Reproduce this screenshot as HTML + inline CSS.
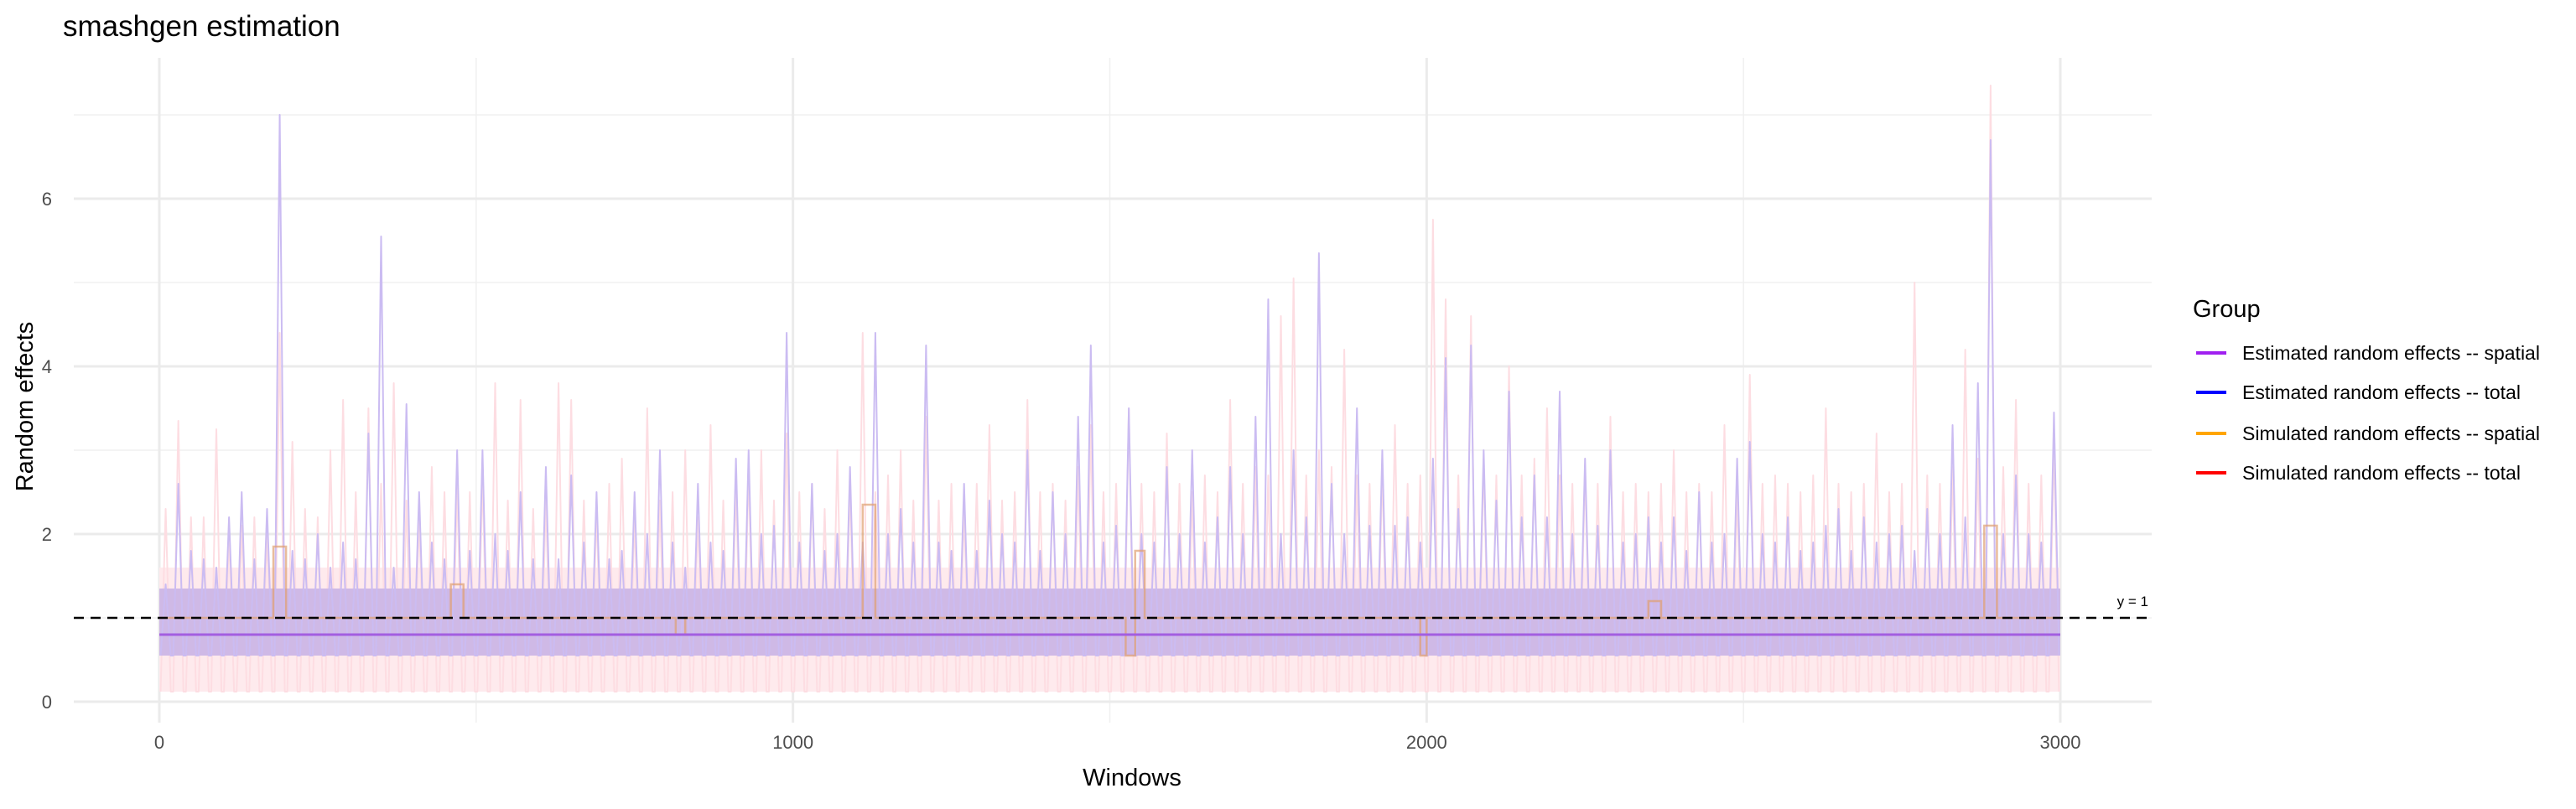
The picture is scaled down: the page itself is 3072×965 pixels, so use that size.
<!DOCTYPE html>
<html><head><meta charset="utf-8"><style>
body{margin:0;background:#fff;}
svg text{font-family:"Liberation Sans",sans-serif;}
</style></head><body>
<svg id="chart" width="3072" height="960" xmlns="http://www.w3.org/2000/svg">
<text x="75" y="43" font-size="35" fill="#000">smashgen estimation</text>
<g id="grid"></g>
<g id="marks"></g>
<g id="axes"></g>
<text x="1350" y="937" font-size="29" text-anchor="middle" fill="#000">Windows</text>
<text transform="translate(39,485) rotate(-90)" font-size="29" text-anchor="middle" fill="#000">Random effects</text>
<g>
<text x="2615" y="378" font-size="29" fill="#000">Group</text>
<g><line x1="2619" x2="2655" y1="421" y2="421" stroke="#a020f0" stroke-width="4"/><text x="2674" y="429" font-size="23">Estimated random effects -- spatial</text></g>
<g><line x1="2619" x2="2655" y1="468" y2="468" stroke="#0000ff" stroke-width="4"/><text x="2674" y="476" font-size="23">Estimated random effects -- total</text></g>
<g><line x1="2619" x2="2655" y1="517" y2="517" stroke="#ffa500" stroke-width="4"/><text x="2674" y="525" font-size="23">Simulated random effects -- spatial</text></g>
<g><line x1="2619" x2="2655" y1="564" y2="564" stroke="#ff0000" stroke-width="4"/><text x="2674" y="572" font-size="23">Simulated random effects -- total</text></g>
</g>
</svg>
<script>
const binStart = 10, binStep = 20;
const estTotalPeaks = [1.4,2.6,1.8,1.7,1.6,2.2,2.5,1.7,2.3,7.0,
1.8,1.7,2.0,1.6,1.9,1.7,3.2,5.55,1.6,3.55,
2.5,1.9,1.7,3.0,1.8,3.0,2.0,1.8,2.5,1.7,
2.8,1.7,2.7,1.9,2.5,1.7,1.8,2.5,2.0,3.0,
1.9,1.6,2.6,1.9,1.8,2.9,3.0,2.0,2.1,4.4,
1.9,2.6,1.8,2.0,2.8,1.9,4.4,2.0,2.3,1.9,
4.25,1.9,1.8,2.6,1.8,2.4,2.0,1.9,3.0,1.8,
2.5,2.0,3.4,4.25,1.9,2.1,3.5,2.0,1.9,2.8,
2.0,3.0,1.9,2.2,2.8,2.0,3.4,4.8,2.0,3.0,
2.2,5.35,2.6,2.0,3.5,2.1,3.0,2.1,2.2,1.9,
2.9,4.1,2.3,4.25,3.0,2.4,3.7,2.2,2.7,2.2,
3.7,2.0,2.9,2.1,3.0,1.9,2.0,2.2,1.9,2.2,
1.8,2.5,1.9,2.0,2.9,3.1,2.0,1.9,2.2,1.8,
1.9,2.1,2.3,1.8,2.2,1.9,2.0,2.1,1.8,2.3,
2.0,3.3,2.2,3.8,6.7,2.0,2.7,2.0,1.9,3.45];
const simTotalPeaks = [2.3,3.35,2.2,2.2,3.25,2.0,2.1,2.2,2.0,4.4,
3.1,2.3,2.2,3.0,3.6,2.5,3.5,2.6,3.8,2.4,
2.2,2.8,2.5,2.6,2.5,2.7,3.8,2.4,3.6,2.3,
2.4,3.8,3.6,2.4,2.3,2.6,2.9,2.2,3.5,2.4,
2.5,3.0,2.2,3.3,2.4,2.6,2.8,3.0,2.4,3.2,
2.5,2.6,2.3,3.0,2.6,4.4,2.5,2.7,3.0,2.4,
3.4,2.4,2.6,2.3,2.6,3.3,2.4,2.5,3.6,2.5,
2.6,2.4,2.8,3.3,2.5,2.6,3.5,2.6,2.5,3.2,
2.6,2.5,2.7,2.5,3.6,2.6,2.8,2.7,4.6,5.05,
2.7,3.0,2.8,4.2,2.7,2.6,2.8,3.3,2.6,2.7,
5.75,4.8,2.7,4.6,2.9,2.7,4.0,2.7,2.9,3.5,
2.7,2.6,2.8,2.6,3.4,2.5,2.6,2.5,2.6,3.0,
2.5,2.6,2.5,3.3,2.5,3.9,2.6,2.7,2.6,2.5,
2.7,3.5,2.6,2.5,2.6,3.2,2.5,2.6,5.0,2.7,
2.6,2.8,4.2,2.9,7.35,2.8,3.6,2.6,2.7,3.1];
const estTotalRange = [0.55, 1.35];
const simTotalRange = [0.12, 1.6];
const estSpatialValue = 0.8;
const simSpatialBreaks = [0,180,200,460,480,815,830,1110,1130,1525,1540,1555,1990,2000,2350,2370,2880,2900,3000];
const simSpatialValues = [1,1.85,1,1.4,1,0.8,1,2.35,1,0.55,1.8,1,0.55,1,1.2,1,2.1,1];
const xTicks = [0,1000,2000,3000];
const yTicks = [0,2,4,6];
const refLineValue = 1;

const X0=190, X1=2457, Y0=837, PXU=100;
const xs = w => X0 + (X1-X0)*w/3000;
const ys = v => Y0 - v*PXU;
const NS="http://www.w3.org/2000/svg";
function mk(tag, attrs, parent){const e=document.createElementNS(NS,tag);for(const k in attrs)e.setAttribute(k,attrs[k]);parent.appendChild(e);return e;}
const grid=document.getElementById('grid'), marks=document.getElementById('marks'), axes=document.getElementById('axes');
const PL=88, PR=2566, PT=69, PB=862;
for(let v=1; v<=7; v+=2){const l=mk('line',{x1:PL,x2:PR,y1:ys(v),y2:ys(v),stroke:'#f0f0f0','stroke-width':1.5},grid);

}
for(let w=500; w<=3000; w+=1000){const l=mk('line',{x1:xs(w),x2:xs(w),y1:PT,y2:PB,stroke:'#f0f0f0','stroke-width':1.5},grid);

}
yTicks.forEach(v=>{const l=mk('line',{x1:PL,x2:PR,y1:ys(v),y2:ys(v),stroke:'#ebebeb','stroke-width':3},grid);


const t=mk('text',{x:62,y:ys(v)+8,'font-size':22,fill:'#4d4d4d','text-anchor':'end'},axes);t.textContent=v;

});
xTicks.forEach(w=>{const l=mk('line',{x1:xs(w),x2:xs(w),y1:PT,y2:PB,stroke:'#ebebeb','stroke-width':3},grid);


const t=mk('text',{x:xs(w),y:893,'font-size':22,fill:'#4d4d4d','text-anchor':'middle'},axes);t.textContent=w;

});

function series(peaks, range, bandColor, lineColor, name){
  const b=mk('rect',{x:xs(0),y:ys(range[1]),width:xs(3000)-xs(0),height:ys(range[0])-ys(range[1]),fill:bandColor},marks);
  
  
  let d='';
  peaks.forEach((p,i)=>{const w=binStart+i*binStep;
    d+=(i?'L':'M')+xs(w-binStep/2+2)+','+ys(range[0])+'L'+xs(w)+','+ys(p)+'L'+xs(w+binStep/2-2)+','+ys(range[0]);});
  const pth=mk('path',{d:d,fill:'none',stroke:lineColor,'stroke-width':2,'stroke-linejoin':'round'},marks);
  
  
}
series(simTotalPeaks, simTotalRange, '#feeaed', '#fddde2', 'simulated-total');
series(estTotalPeaks, estTotalRange, '#cfb9e6', '#cbbcf2', 'estimated-total');

let sd='';
simSpatialValues.forEach((v,i)=>{sd+=(i?'L':'M')+xs(simSpatialBreaks[i])+','+ys(v)+'L'+xs(simSpatialBreaks[i+1])+','+ys(v);});
const sp=mk('path',{d:sd,fill:'none',stroke:'#e0a070','stroke-width':2.5,opacity:0.7},marks);


const es=mk('line',{x1:xs(0),x2:xs(3000),y1:ys(estSpatialValue),y2:ys(estSpatialValue),stroke:'#a35ee0','stroke-width':3},marks);


const rl=mk('line',{x1:PL,x2:PR,y1:ys(refLineValue),y2:ys(refLineValue),stroke:'#000','stroke-width':2.5,'stroke-dasharray':'12,8'},marks);


const rt=mk('text',{x:2562,y:ys(refLineValue)-14,'font-size':17,'text-anchor':'end',fill:'#000'},marks);rt.textContent='y = 1';


</script>
</body></html>
